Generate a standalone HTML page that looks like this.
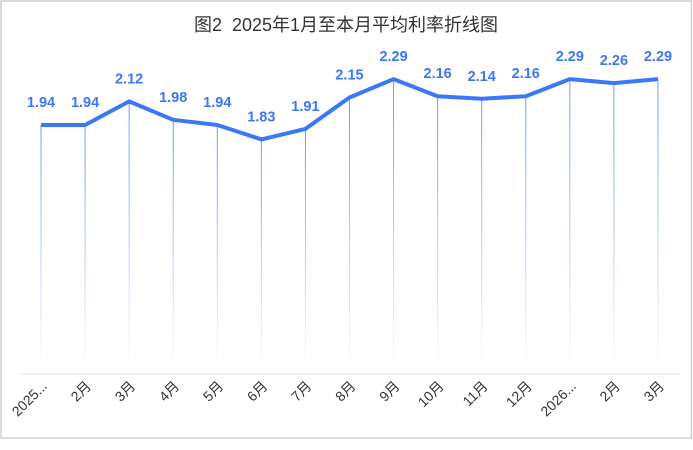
<!DOCTYPE html>
<html><head><meta charset="utf-8"><style>
body{margin:0;background:#fff;}
svg{display:block;font-family:"Liberation Sans","Noto Sans CJK SC",sans-serif;}
</style></head><body>
<svg width="693" height="450" viewBox="0 0 693 450">
<defs><linearGradient id="g" x1="0" y1="0" x2="0" y2="1"><stop offset="0" stop-color="#3b78f5" stop-opacity="0.75"/><stop offset="1" stop-color="#3b78f5" stop-opacity="0.02"/></linearGradient></defs>
<rect x="1" y="1" width="690.5" height="437" fill="#fff" stroke="#cfcfcf" stroke-width="1.5"/>
<text x="346" y="31" text-anchor="middle" font-size="18" fill="#333" style="white-space:pre">图2  2025年1月至本月平均利率折线图</text>
<line x1="20" y1="374" x2="680" y2="374" stroke="#e3e3e3" stroke-width="1"/>
<g id="c"></g>
</svg>
<script>
var d=[1.94,1.94,2.12,1.98,1.94,1.83,1.91,2.15,2.29,2.16,2.14,2.16,2.29,2.26,2.29];
var L=["2025...","2月","3月","4月","5月","6月","7月","8月","9月","10月","11月","12月","2026...","2月","3月"];
var s="",p=[];
d.forEach(function(v,i){var x=41+i*44.07,y=125-(v-1.94)*131;p.push(x.toFixed(1)+","+y.toFixed(1));
s+='<rect x="'+(x-0.5)+'" y="'+y+'" width="1" height="'+(365-y)+'" fill="url(#g)"/>';
s+='<text x="'+x+'" y="'+(y-18)+'" text-anchor="middle" font-size="14.5" font-weight="bold" fill="#3b78f5">'+v.toFixed(2)+'</text>';
s+='<text transform="translate('+(x+7)+',387) rotate(-45)" text-anchor="end" font-size="14" fill="#333">'+L[i]+'</text>';});
s+='<polyline points="'+p.join(" ")+'" fill="none" stroke="#3b78f5" stroke-width="4" stroke-linejoin="round"/>';
document.getElementById("c").innerHTML=s;
</script>
</body></html>
